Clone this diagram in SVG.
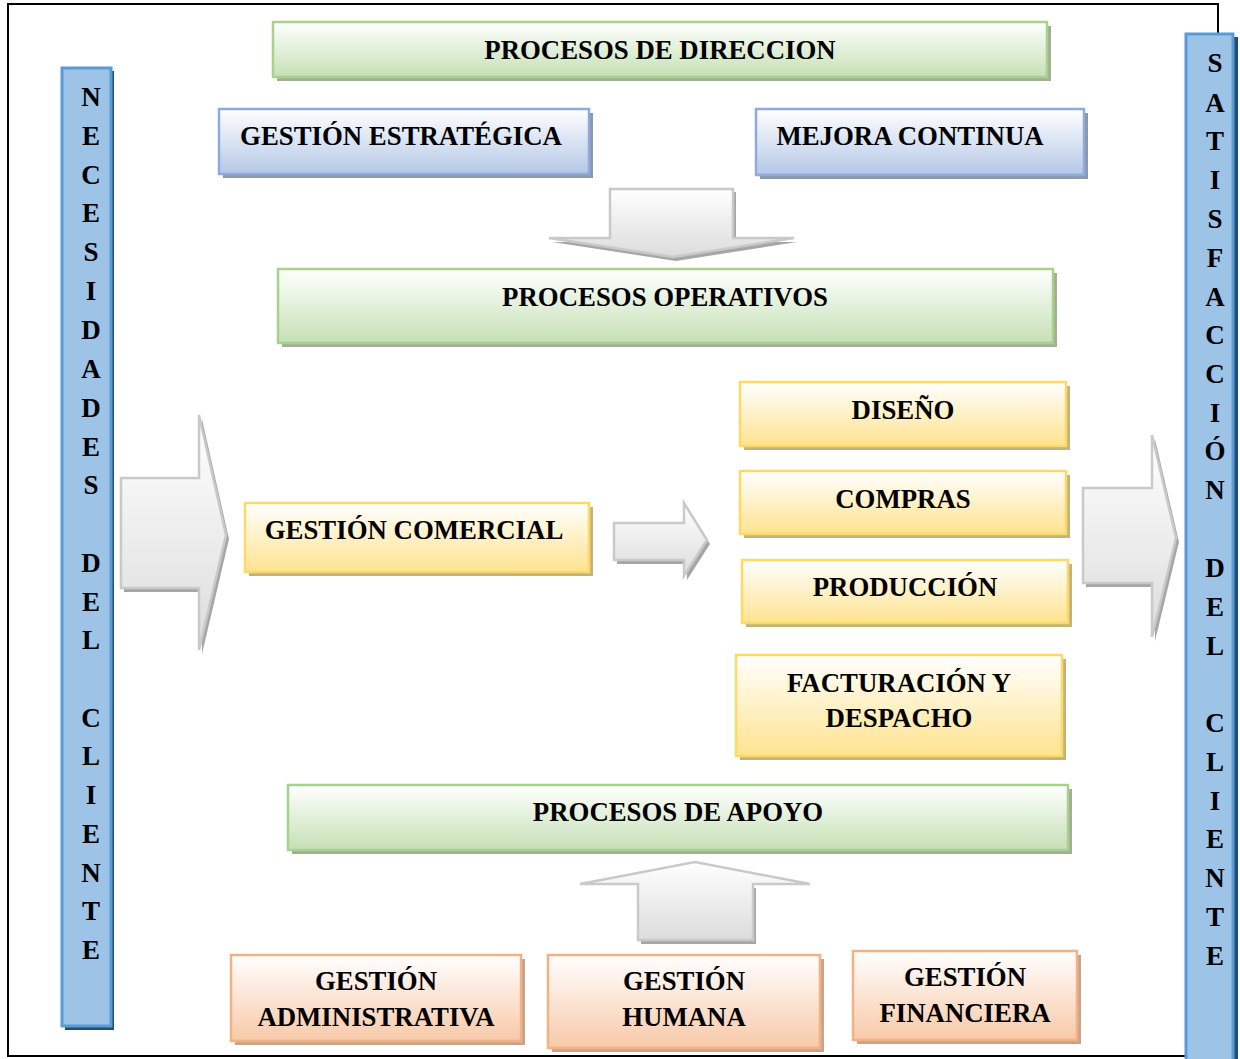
<svg xmlns="http://www.w3.org/2000/svg" width="1240" height="1059" viewBox="0 0 1240 1059">
<defs>
<linearGradient id="gG" x1="0" y1="0" x2="0" y2="1"><stop offset="0" stop-color="#ffffff"/><stop offset="1" stop-color="#c5e0b4"/></linearGradient>
<linearGradient id="gB" x1="0" y1="0" x2="0" y2="1"><stop offset="0" stop-color="#ffffff"/><stop offset="1" stop-color="#b4c7e7"/></linearGradient>
<linearGradient id="gY" x1="0" y1="0" x2="0" y2="1"><stop offset="0" stop-color="#ffffff"/><stop offset="1" stop-color="#ffe38f"/></linearGradient>
<linearGradient id="gO" x1="0" y1="0" x2="0" y2="1"><stop offset="0" stop-color="#ffffff"/><stop offset="1" stop-color="#f8c9a8"/></linearGradient>
<linearGradient id="gA" x1="0" y1="0" x2="0" y2="1"><stop offset="0" stop-color="#ffffff"/><stop offset="1" stop-color="#dcdcdc"/></linearGradient>
<style>
.t{font-family:"Liberation Serif","Times New Roman",serif;font-weight:bold;font-size:26.8px;fill:#000;text-anchor:middle}
.v{font-family:"Liberation Serif","Times New Roman",serif;font-weight:bold;font-size:27px;fill:#000;text-anchor:middle}
.g{fill:url(#gG);stroke:#a9d18e;stroke-width:2.5}
.gs{fill:#a3ad97}
.b{fill:url(#gB);stroke:#8faadc;stroke-width:2.5}
.bs{fill:#8e98ab}
.y{fill:url(#gY);stroke:#ffd966;stroke-width:2.5}
.ys{fill:#c2b27c}
.o{fill:url(#gO);stroke:#f4b183;stroke-width:2.5}
.os{fill:#c7a48e}
.a{fill:url(#gA);stroke:#c9c9c9;stroke-width:2.5}
.as{fill:#a6a6a6}
.bar{fill:#9dc3e6;stroke:#5b9bd5;stroke-width:3}
.bars{fill:#1f4e79}
</style>
</defs>
<rect x="0" y="0" width="1240" height="1059" fill="#ffffff"/>
<rect x="8" y="4" width="1210" height="1052" fill="none" stroke="#000" stroke-width="2"/>

<g id="left-bar">
<rect class="bars" x="65" y="71" width="49" height="959"/>
<rect class="bar" x="62" y="68" width="49" height="958"/>
<text class="v" x="91" y="106">N</text>
<text class="v" x="91" y="145">E</text>
<text class="v" x="91" y="184">C</text>
<text class="v" x="91" y="222">E</text>
<text class="v" x="91" y="261">S</text>
<text class="v" x="91" y="300">I</text>
<text class="v" x="91" y="339">D</text>
<text class="v" x="91" y="378">A</text>
<text class="v" x="91" y="417">D</text>
<text class="v" x="91" y="456">E</text>
<text class="v" x="91" y="494">S</text>
<text class="v" x="91" y="572">D</text>
<text class="v" x="91" y="611">E</text>
<text class="v" x="91" y="649">L</text>
<text class="v" x="91" y="727">C</text>
<text class="v" x="91" y="765">L</text>
<text class="v" x="91" y="804">I</text>
<text class="v" x="91" y="843">E</text>
<text class="v" x="91" y="882">N</text>
<text class="v" x="91" y="920">T</text>
<text class="v" x="91" y="959">E</text>
</g>

<g id="right-bar">
<rect class="bars" x="1189" y="37" width="49" height="1030"/>
<rect class="bar" x="1186" y="34" width="47" height="1030"/>
<text class="v" x="1215" y="72">S</text>
<text class="v" x="1215" y="112">A</text>
<text class="v" x="1215" y="150">T</text>
<text class="v" x="1215" y="189">I</text>
<text class="v" x="1215" y="228">S</text>
<text class="v" x="1215" y="267">F</text>
<text class="v" x="1215" y="306">A</text>
<text class="v" x="1215" y="344">C</text>
<text class="v" x="1215" y="383">C</text>
<text class="v" x="1215" y="422">I</text>
<text class="v" x="1215" y="460">Ó</text>
<text class="v" x="1215" y="499">N</text>
<text class="v" x="1215" y="577">D</text>
<text class="v" x="1215" y="616">E</text>
<text class="v" x="1215" y="655">L</text>
<text class="v" x="1215" y="732">C</text>
<text class="v" x="1215" y="771">L</text>
<text class="v" x="1215" y="810">I</text>
<text class="v" x="1215" y="848">E</text>
<text class="v" x="1215" y="887">N</text>
<text class="v" x="1215" y="926">T</text>
<text class="v" x="1215" y="965">E</text>
</g>

<g id="procesos-direccion">
<rect class="gs" x="277" y="26" width="774" height="55"/>
<rect class="g" x="273" y="22" width="774" height="55"/>
<text class="t" x="660" y="59">PROCESOS DE DIRECCION</text>
</g>
<g id="gestion-estrategica">
<rect class="bs" x="223" y="113" width="370" height="65"/>
<rect class="b" x="219" y="109" width="370" height="65"/>
<text class="t" x="401" y="145">GESTIÓN ESTRATÉGICA</text>
</g>
<g id="mejora-continua">
<rect class="bs" x="760" y="113" width="328" height="66"/>
<rect class="b" x="756" y="109" width="328" height="66"/>
<text class="t" x="910" y="145">MEJORA CONTINUA</text>
</g>
<g id="procesos-operativos">
<rect class="gs" x="282" y="273" width="775" height="74"/>
<rect class="g" x="278" y="269" width="775" height="74"/>
<text class="t" x="665" y="306">PROCESOS OPERATIVOS</text>
</g>
<g id="gestion-comercial">
<rect class="ys" x="249" y="507" width="344" height="69"/>
<rect class="y" x="245" y="503" width="344" height="69"/>
<text class="t" x="414" y="539">GESTIÓN COMERCIAL</text>
</g>
<g id="diseno">
<rect class="ys" x="744" y="386" width="326" height="64"/>
<rect class="y" x="740" y="382" width="326" height="64"/>
<text class="t" x="903" y="419">DISEÑO</text>
</g>
<g id="compras">
<rect class="ys" x="744" y="475" width="326" height="63"/>
<rect class="y" x="740" y="471" width="326" height="63"/>
<text class="t" x="903" y="508">COMPRAS</text>
</g>
<g id="produccion">
<rect class="ys" x="746" y="564" width="326" height="63"/>
<rect class="y" x="742" y="560" width="326" height="63"/>
<text class="t" x="905" y="596">PRODUCCIÓN</text>
</g>
<g id="facturacion">
<rect class="ys" x="740" y="659" width="326" height="101"/>
<rect class="y" x="736" y="655" width="326" height="101"/>
<text class="t" x="899" y="692">FACTURACIÓN Y</text>
<text class="t" x="899" y="727">DESPACHO</text>
</g>
<g id="procesos-apoyo">
<rect class="gs" x="292" y="789" width="780" height="65"/>
<rect class="g" x="288" y="785" width="780" height="65"/>
<text class="t" x="678" y="821">PROCESOS DE APOYO</text>
</g>
<g id="gestion-administrativa">
<rect class="os" x="235" y="959" width="290" height="86"/>
<rect class="o" x="231" y="955" width="290" height="86"/>
<text class="t" x="376" y="990">GESTIÓN</text>
<text class="t" x="376" y="1026">ADMINISTRATIVA</text>
</g>
<g id="gestion-humana">
<rect class="os" x="552" y="959" width="272" height="93"/>
<rect class="o" x="548" y="955" width="272" height="93"/>
<text class="t" x="684" y="990">GESTIÓN</text>
<text class="t" x="684" y="1026">HUMANA</text>
</g>
<g id="gestion-financiera">
<rect class="os" x="857" y="955" width="224" height="89"/>
<rect class="o" x="853" y="951" width="224" height="89"/>
<text class="t" x="965" y="986">GESTIÓN</text>
<text class="t" x="965" y="1022">FINANCIERA</text>
</g>

<g id="connectors">
<polygon class="as" points="613,192 736,192 736,242 797,242 676,261 552,242 613,242"/>
<polygon class="a" points="610,189 733,189 733,238 794,238 673,257 549,238 610,238"/>
<polygon class="as" points="641,944 756,944 756,888 812,888 585,888 641,888"/>
<polygon class="a" points="638,940 753,940 753,884 810,884 695,862 580,884 638,884"/>
<polygon class="as" points="124,482 202,482 202,419 229,539 202,654 202,592 124,592"/>
<polygon class="a" points="121,478 199,478 199,415 226,535 199,650 199,588 121,588"/>
<polygon class="as" points="617,527 687,527 687,507 710,544 687,580 687,564 617,564"/>
<polygon class="a" points="614,523 684,523 684,503 707,540 684,576 684,560 614,560"/>
<polygon class="as" points="1086,492 1155,492 1155,439 1179,542 1155,641 1155,587 1086,587"/>
<polygon class="a" points="1083,488 1152,488 1152,435 1176,538 1152,637 1152,583 1083,583"/>
</g>
</svg>
